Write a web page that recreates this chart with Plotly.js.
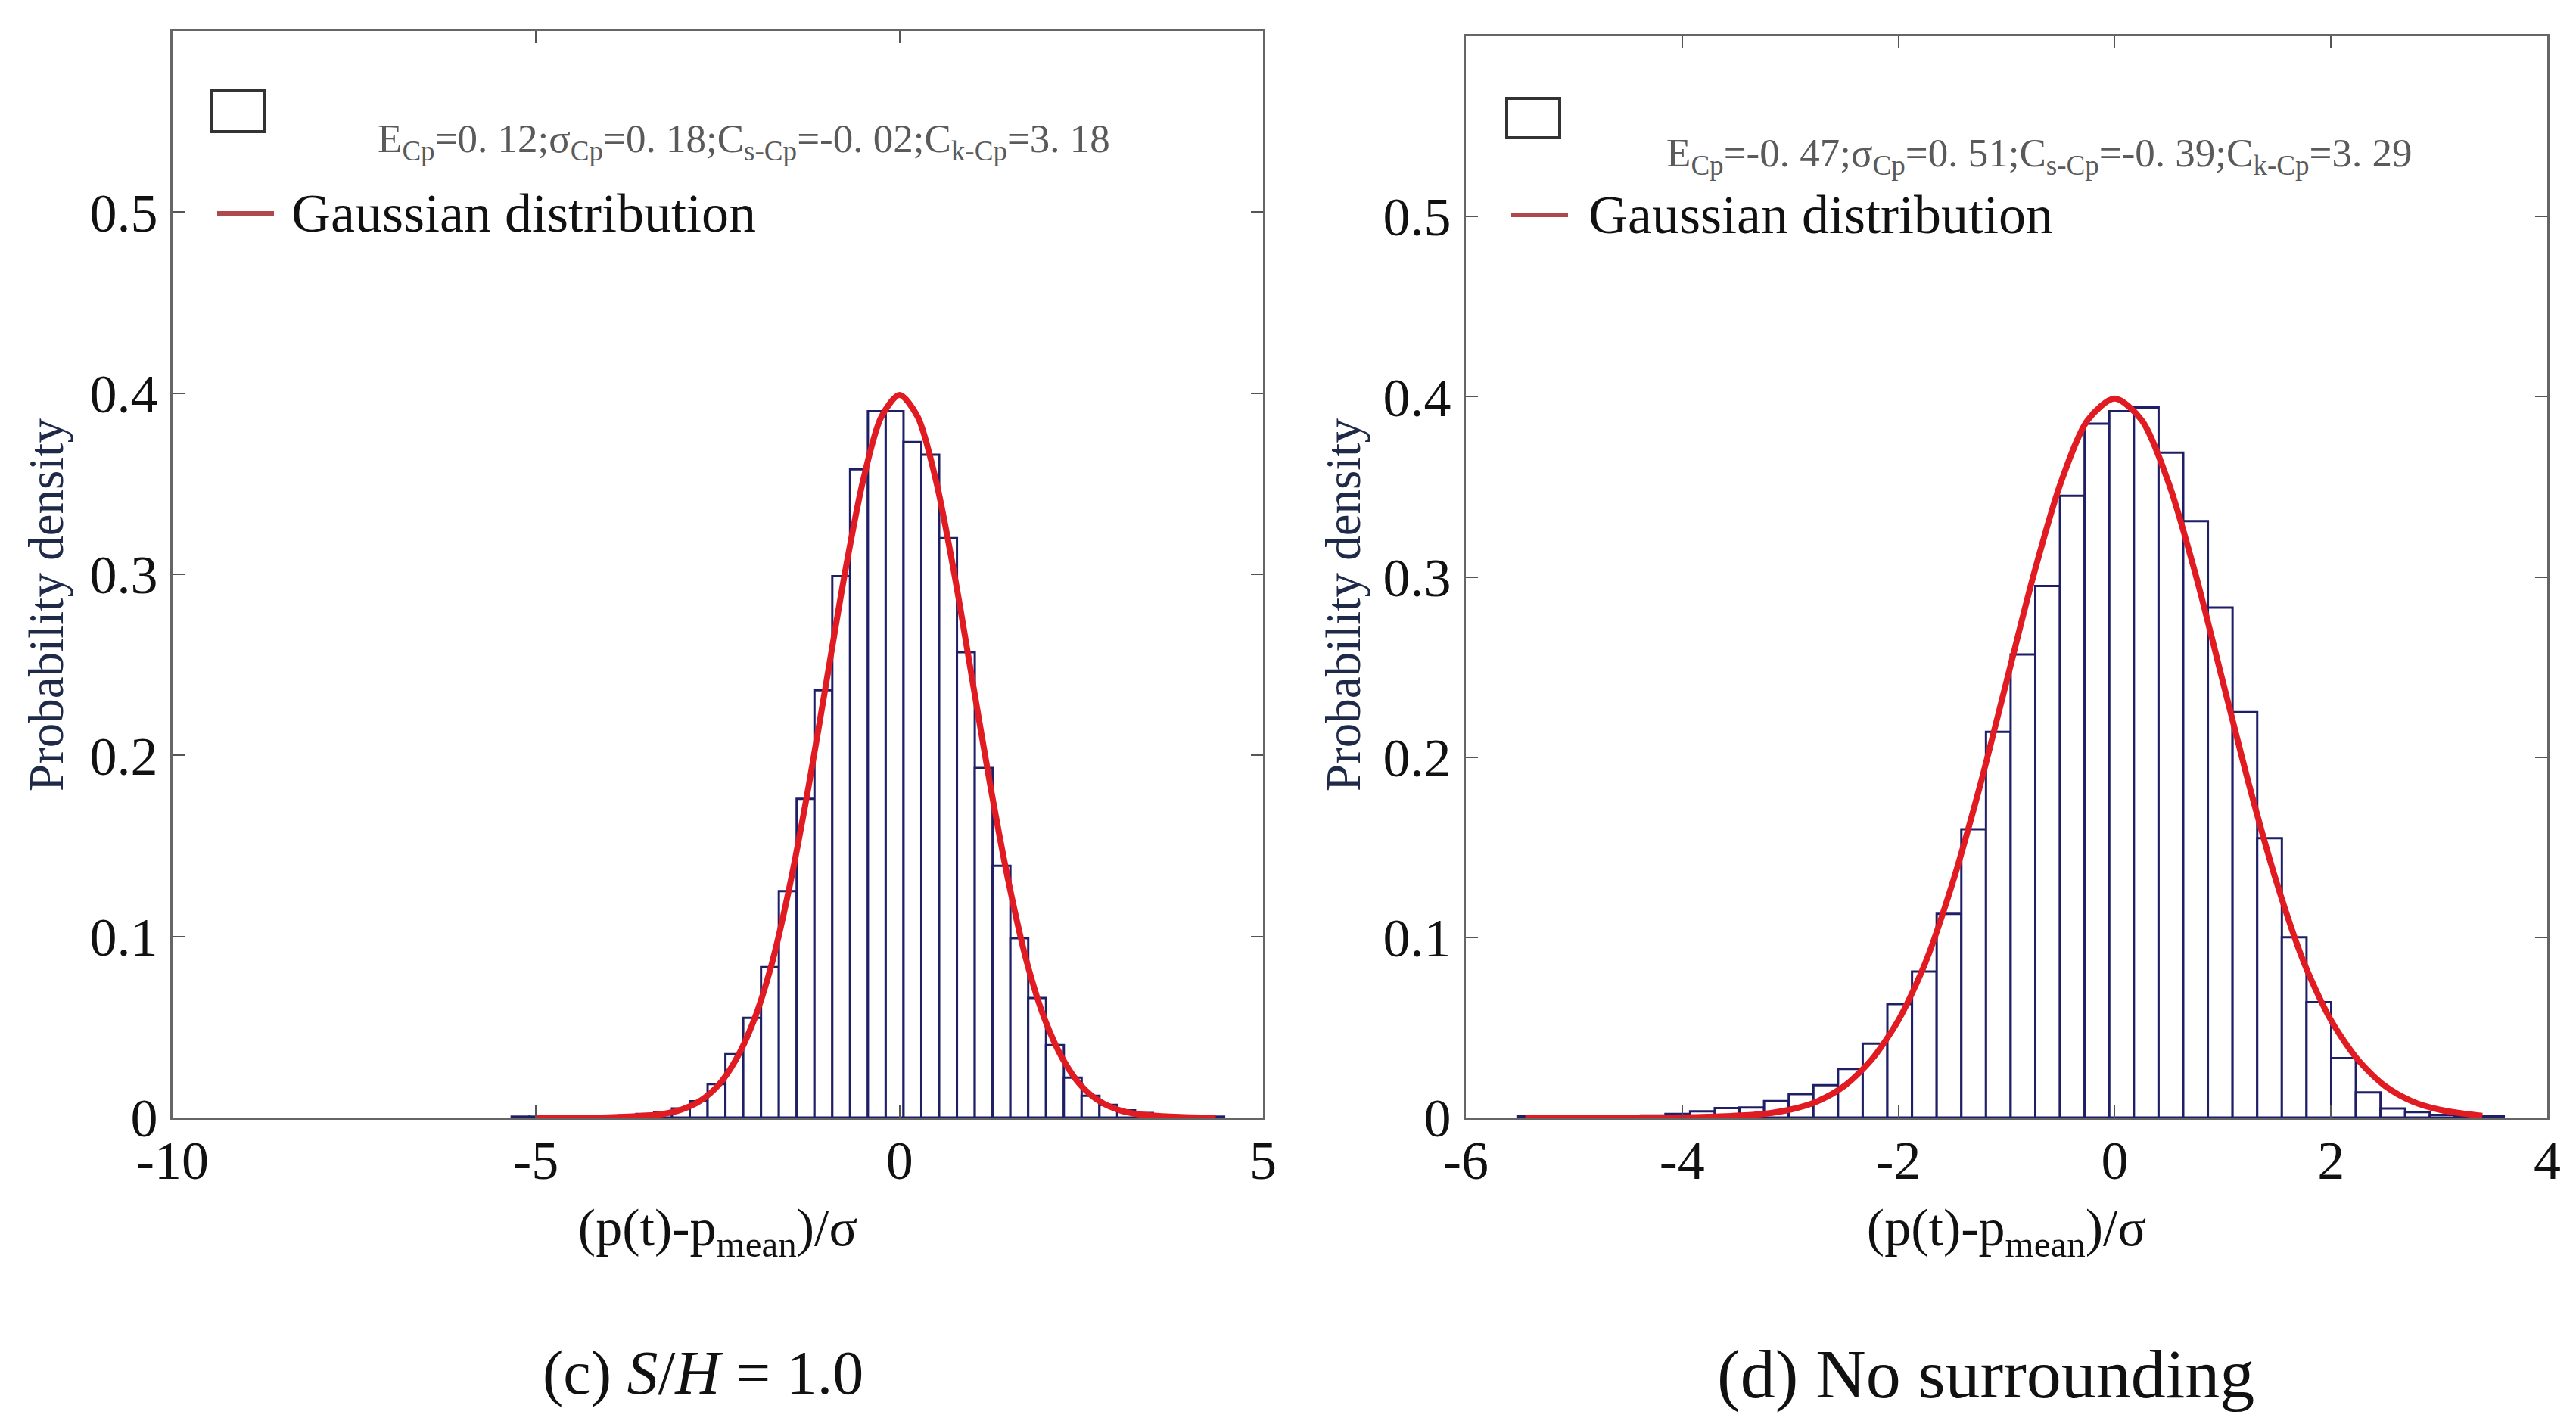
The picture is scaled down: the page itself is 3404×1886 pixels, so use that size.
<!DOCTYPE html>
<html>
<head>
<meta charset="utf-8">
<script src="https://cdn.plot.ly/plotly-3.0.1.min.js"></script>
<style>
  html, body { margin: 0; padding: 0; background: #fff; }
  #chart { width: 3404px; height: 1886px; }
</style>
</head>
<body>
<div id="chart"></div>
<script>
// (c) S/H = 1.0 : histogram bins (40 bins) and read-off densities
const binStartC = -5.335;
const binWidthC = 0.245;
const densityC = [
  0.0005, 0.0005, 0.0005, 0.0005, 0.0008, 0.001, 0.0012, 0.002, 0.003, 0.005,
  0.009, 0.0185, 0.035, 0.055, 0.083, 0.125, 0.176, 0.236, 0.299, 0.358,
  0.390, 0.390, 0.373, 0.366, 0.320, 0.257, 0.193, 0.139, 0.099, 0.066,
  0.040, 0.022, 0.012, 0.007, 0.004, 0.0025, 0.0015, 0.001, 0.0008, 0.0005
];

// (d) No surrounding : histogram bins (40 bins)
const binStartD = -5.522;
const binWidthD = 0.228;
const densityD = [
  0.0008, 0.0003, 0.0003, 0.0005, 0.0008, 0.0012, 0.002, 0.0035, 0.0053, 0.0056,
  0.0091, 0.013, 0.018, 0.027, 0.041, 0.063, 0.081, 0.113, 0.160, 0.214,
  0.257, 0.295, 0.345, 0.385, 0.392, 0.394, 0.369, 0.331, 0.283, 0.225,
  0.155, 0.100, 0.064, 0.033, 0.014, 0.005, 0.003, 0.0015, 0.001, 0.001
];

// Gaussian distribution curves
const gaussXC = [-5.0, -4.5, -4.0, -3.5, -3.25, -3.0, -2.75, -2.5, -2.25, -2.0, -1.75, -1.5, -1.25, -1.0, -0.75, -0.5, -0.25, 0,
                 0.25, 0.5, 0.75, 1.0, 1.25, 1.5, 1.75, 2.0, 2.25, 2.5, 2.75, 3.0, 3.25, 3.5, 4.0, 4.35];
const gaussYC = [0, 0, 0.0001, 0.001, 0.002, 0.0044, 0.009, 0.0175, 0.032, 0.054, 0.086, 0.130, 0.183, 0.242, 0.301, 0.352, 0.387, 0.399,
                 0.387, 0.352, 0.301, 0.242, 0.183, 0.130, 0.086, 0.054, 0.032, 0.0175, 0.009, 0.0044, 0.002, 0.001, 0.0001, 0];
const gaussXD = [-5.45, -5.0, -4.5, -4.0, -3.5, -3.25, -3.0, -2.75, -2.5, -2.25, -2.0, -1.75, -1.5, -1.25, -1.0, -0.75, -0.5, -0.25, 0,
                 0.25, 0.5, 0.75, 1.0, 1.25, 1.5, 1.75, 2.0, 2.25, 2.5, 2.75, 3.0, 3.25, 3.4];
const gaussYD = [0, 0, 0, 0.0001, 0.001, 0.002, 0.0044, 0.009, 0.0175, 0.032, 0.054, 0.086, 0.130, 0.183, 0.242, 0.301, 0.352, 0.387, 0.399,
                 0.387, 0.352, 0.301, 0.242, 0.183, 0.130, 0.086, 0.054, 0.032, 0.0175, 0.009, 0.0044, 0.002, 0.001];

const xTicksC = [-10, -5, 0, 5];
const xTickTextC = ['-10', '-5', '0', '5'];
const xTicksD = [-6, -4, -2, 0, 2, 4];
const xTickTextD = ['-6', '-4', '-2', '0', '2', '4'];
const yTicks = [0, 0.1, 0.2, 0.3, 0.4, 0.5];
const yTickText = ['0', '0.1', '0.2', '0.3', '0.4', '0.5'];

const statsC = 'E<sub>Cp</sub>=0. 12;σ<sub>Cp</sub>=0. 18;C<sub>s-Cp</sub>=-0. 02;C<sub>k-Cp</sub>=3. 18';
const statsD = 'E<sub>Cp</sub>=-0. 47;σ<sub>Cp</sub>=0. 51;C<sub>s-Cp</sub>=-0. 39;C<sub>k-Cp</sub>=3. 29';

const W = 3404, H = 1886;
const px = v => v / W;
const py = v => 1 - v / H;

const serif = 'Liberation Serif, Times New Roman, serif';
const barEdge = '#1f1f68';
const red = '#e01b22';

function centers(start, width, n) {
  const out = [];
  for (let i = 0; i < n; i++) out.push(start + width * (i + 0.5));
  return out;
}

const traces = [
  {
    type: 'bar', x: centers(binStartC, binWidthC, densityC.length), y: densityC,
    width: binWidthC, xaxis: 'x', yaxis: 'y', showlegend: false,
    marker: { color: '#ffffff', line: { color: barEdge, width: 3 } }
  },
  {
    type: 'scatter', mode: 'lines', x: gaussXC, y: gaussYC, xaxis: 'x', yaxis: 'y',
    showlegend: false, line: { color: red, width: 8, shape: 'spline', smoothing: 0.8 }
  },
  {
    type: 'bar', x: centers(binStartD, binWidthD, densityD.length), y: densityD,
    width: binWidthD, xaxis: 'x2', yaxis: 'y2', showlegend: false,
    marker: { color: '#ffffff', line: { color: barEdge, width: 3 } }
  },
  {
    type: 'scatter', mode: 'lines', x: gaussXD, y: gaussYD, xaxis: 'x2', yaxis: 'y2',
    showlegend: false, line: { color: red, width: 8, shape: 'spline', smoothing: 0.8 }
  }
];

function xAxis(domain, range, vals, text, anchor) {
  return {
    domain: domain, range: range, anchor: anchor,
    tickvals: vals, ticktext: text, ticks: 'inside', ticklen: 16, tickwidth: 2, tickcolor: '#555',
    showline: true, linecolor: '#666', linewidth: 3, mirror: 'ticks',
    showgrid: false, zeroline: false, ticklabelstandoff: -8,
    tickfont: { family: serif, size: 72, color: '#111' },
    title: {
      text: '(p(t)-p<sub>mean</sub>)/σ',
      font: { family: serif, size: 70, color: '#111' }, standoff: 24
    }
  };
}

function yAxis(domain, anchor) {
  return {
    domain: domain, range: [0, 0.6], anchor: anchor,
    tickvals: yTicks, ticktext: yTickText, ticks: 'inside', ticklen: 16, tickwidth: 2, tickcolor: '#555',
    showline: true, linecolor: '#666', linewidth: 3, mirror: 'ticks',
    showgrid: false, zeroline: false, ticklabelstandoff: 2,
    tickfont: { family: serif, size: 72, color: '#111' }
  };
}

const layout = {
  width: W, height: H,
  margin: { l: 0, r: 0, t: 0, b: 0 },
  paper_bgcolor: '#ffffff', plot_bgcolor: '#ffffff',
  bargap: 0, showlegend: false,
  xaxis: xAxis([px(228), px(1669)], [-10, 5], xTicksC, xTickTextC, 'y'),
  yaxis: yAxis([py(1477), py(41)], 'x'),
  xaxis2: xAxis([px(1937), px(3366)], [-6, 4], xTicksD, xTickTextD, 'y2'),
  yaxis2: yAxis([py(1477), py(48)], 'x2'),
  shapes: [
    // legend markers
    { type: 'rect', xref: 'paper', yref: 'paper', x0: px(279), x1: px(350), y0: py(174), y1: py(119),
      line: { color: '#333', width: 4 }, fillcolor: 'rgba(0,0,0,0)' },
    { type: 'line', xref: 'paper', yref: 'paper', x0: px(287), x1: px(362), y0: py(282), y1: py(282),
      line: { color: '#b0474b', width: 6 } },
    { type: 'rect', xref: 'paper', yref: 'paper', x0: px(1991), x1: px(2061), y0: py(182), y1: py(130),
      line: { color: '#333', width: 4 }, fillcolor: 'rgba(0,0,0,0)' },
    { type: 'line', xref: 'paper', yref: 'paper', x0: px(1997), x1: px(2072), y0: py(284), y1: py(284),
      line: { color: '#b0474b', width: 6 } }
  ],
  annotations: [
    { xref: 'paper', yref: 'paper', x: px(61), y: py(800), textangle: -90, xanchor: 'center', yanchor: 'middle',
      text: 'Probability density', showarrow: false, font: { family: serif, size: 65, color: '#1e2a48' } },
    { xref: 'paper', yref: 'paper', x: px(1775), y: py(800), textangle: -90, xanchor: 'center', yanchor: 'middle',
      text: 'Probability density', showarrow: false, font: { family: serif, size: 65, color: '#1e2a48' } },
    { xref: 'paper', yref: 'paper', x: px(497), y: py(187), xanchor: 'left', yanchor: 'middle',
      text: statsC, showarrow: false, font: { family: serif, size: 53, color: '#5a5a5a' } },
    { xref: 'paper', yref: 'paper', x: px(383), y: py(282), xanchor: 'left', yanchor: 'middle',
      text: 'Gaussian distribution', showarrow: false, font: { family: serif, size: 72, color: '#111' } },
    { xref: 'paper', yref: 'paper', x: px(2200), y: py(206), xanchor: 'left', yanchor: 'middle',
      text: statsD, showarrow: false, font: { family: serif, size: 53, color: '#5a5a5a' } },
    { xref: 'paper', yref: 'paper', x: px(2097), y: py(284), xanchor: 'left', yanchor: 'middle',
      text: 'Gaussian distribution', showarrow: false, font: { family: serif, size: 72, color: '#111' } },
    { xref: 'paper', yref: 'paper', x: px(929), y: py(1814), xanchor: 'center', yanchor: 'middle',
      text: '(c) <i>S</i>/<i>H</i> = 1.0', showarrow: false, font: { family: serif, size: 82, color: '#111' } },
    { xref: 'paper', yref: 'paper', x: px(2624), y: py(1816), xanchor: 'center', yanchor: 'middle',
      text: '(d) No surrounding', showarrow: false, font: { family: serif, size: 92, color: '#111' } }
  ]
};

Plotly.newPlot('chart', traces, layout, { displayModeBar: false, staticPlot: true });
</script>
</body>
</html>
